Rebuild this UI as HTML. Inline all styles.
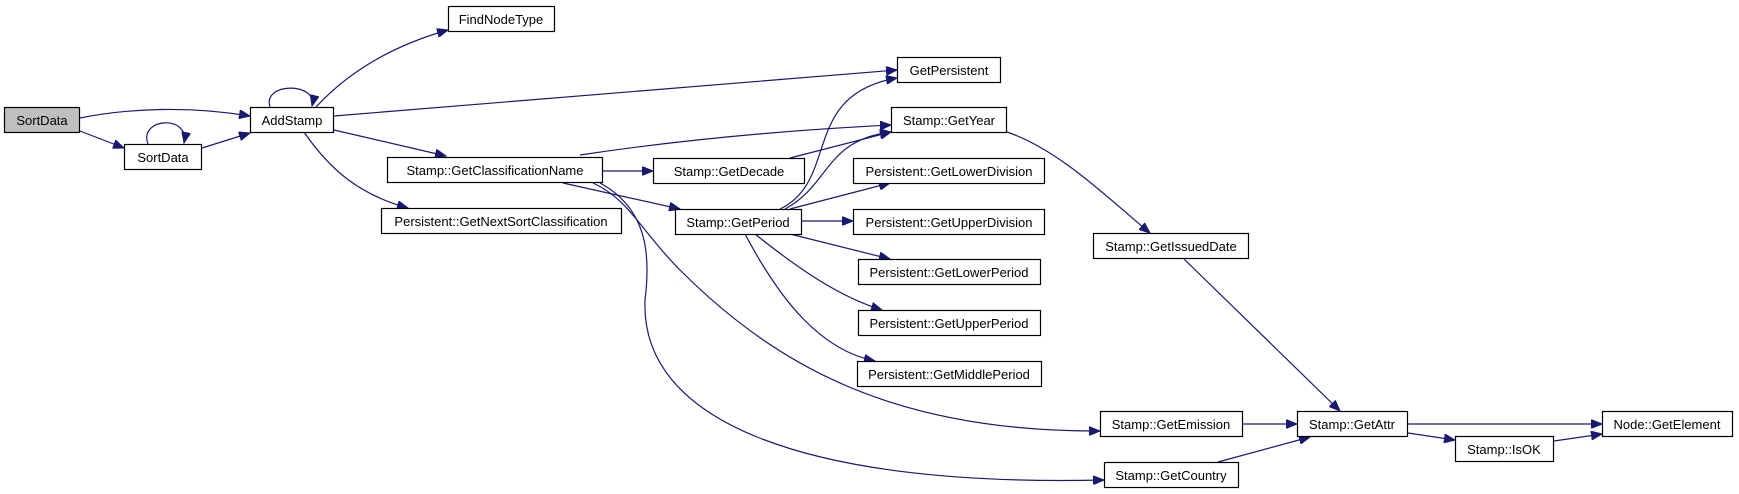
<!DOCTYPE html>
<html><head><meta charset="utf-8"><style>
html,body{margin:0;padding:0;background:#fff;}
svg{display:block;}
text{font-family:"Liberation Sans",sans-serif;font-size:13px;fill:#000;}
rect{stroke:#000;stroke-width:1.2;fill:#fff;}
path{fill:none;stroke:#191970;stroke-width:1.2;}
</style></head><body>
<svg width="1739" height="494" viewBox="0 0 1739 494" xmlns="http://www.w3.org/2000/svg">
<defs><marker id="a" markerUnits="userSpaceOnUse" markerWidth="12" markerHeight="9" refX="11" refY="4.5" orient="auto"><polygon points="0,0 11,4.5 0,9" fill="#191970" stroke="#191970"/></marker></defs>
<g marker-end="url(#a)">
<path d="M80,118 C130,108 190,106 250,116"/>
<path d="M80,131 L124,148"/>
<path d="M148,144 C138,118 190,114 184,143"/>
<path d="M202,148 L250,133"/>
<path d="M270,107 C262,82 318,82 312,106"/>
<path d="M316,107 C350,70 395,45 448,30"/>
<path d="M334,116 L897,70"/>
<path d="M334,130 L446,156"/>
<path d="M304,132 C330,170 360,195 408,208"/>
<path d="M580,155 C680,140 790,130 891,125"/>
<path d="M603,171 L653,171"/>
<path d="M563,183 L680,209"/>
<path d="M593,183 C630,200 640,230 680,270 C780,370 900,432 1100,431"/>
<path d="M600,183 C650,210 650,260 645,300 C640,420 800,487 1104,480"/>
<path d="M790,158 L891,132"/>
<path d="M780,209 C840,180 800,95 897,78"/>
<path d="M785,209 C830,185 825,140 891,132"/>
<path d="M790,209 L890,183"/>
<path d="M801,221 L853,221"/>
<path d="M790,234 L890,259"/>
<path d="M755,234 C800,270 840,297 882,310"/>
<path d="M745,234 C780,300 820,350 875,361"/>
<path d="M1007,132 C1060,150 1110,200 1150,233"/>
<path d="M1184,259 L1340,411"/>
<path d="M1243,424 L1297,424"/>
<path d="M1218,462 L1310,437"/>
<path d="M1408,424 L1602,424"/>
<path d="M1408,433 L1455,440"/>
<path d="M1554,441 L1602,434"/>
</g>
<rect x="4.5" y="107.5" width="75" height="25" style="fill:#bfbfbf"/><text x="42" y="125" text-anchor="middle">SortData</text>
<rect x="124.5" y="144.5" width="77" height="25"/><text x="163" y="162" text-anchor="middle">SortData</text>
<rect x="250.5" y="107.5" width="83" height="25"/><text x="292" y="125" text-anchor="middle">AddStamp</text>
<rect x="448.5" y="6.5" width="106" height="25"/><text x="501" y="24" text-anchor="middle">FindNodeType</text>
<rect x="387.5" y="157.5" width="215" height="25"/><text x="495" y="175" text-anchor="middle">Stamp::GetClassificationName</text>
<rect x="381.5" y="208.5" width="240" height="25"/><text x="501" y="226" text-anchor="middle">Persistent::GetNextSortClassification</text>
<rect x="897.5" y="57.5" width="103" height="25"/><text x="949" y="75" text-anchor="middle">GetPersistent</text>
<rect x="891.5" y="107.5" width="115" height="25"/><text x="949" y="125" text-anchor="middle">Stamp::GetYear</text>
<rect x="653.5" y="158.5" width="151" height="25"/><text x="729" y="176" text-anchor="middle">Stamp::GetDecade</text>
<rect x="675.5" y="209.5" width="126" height="25"/><text x="738" y="227" text-anchor="middle">Stamp::GetPeriod</text>
<rect x="853.5" y="158.5" width="191" height="25"/><text x="949" y="176" text-anchor="middle">Persistent::GetLowerDivision</text>
<rect x="853.5" y="209.5" width="191" height="25"/><text x="949" y="227" text-anchor="middle">Persistent::GetUpperDivision</text>
<rect x="858.5" y="259.5" width="182" height="25"/><text x="949" y="277" text-anchor="middle">Persistent::GetLowerPeriod</text>
<rect x="858.5" y="310.5" width="182" height="25"/><text x="949" y="328" text-anchor="middle">Persistent::GetUpperPeriod</text>
<rect x="857.5" y="361.5" width="184" height="25"/><text x="949" y="379" text-anchor="middle">Persistent::GetMiddlePeriod</text>
<rect x="1093.5" y="233.5" width="155" height="25"/><text x="1171" y="251" text-anchor="middle">Stamp::GetIssuedDate</text>
<rect x="1100.5" y="411.5" width="142" height="25"/><text x="1171" y="429" text-anchor="middle">Stamp::GetEmission</text>
<rect x="1104.5" y="462.5" width="134" height="25"/><text x="1171" y="480" text-anchor="middle">Stamp::GetCountry</text>
<rect x="1297.5" y="411.5" width="110" height="25"/><text x="1352" y="429" text-anchor="middle">Stamp::GetAttr</text>
<rect x="1455.5" y="436.5" width="98" height="25"/><text x="1504" y="454" text-anchor="middle">Stamp::IsOK</text>
<rect x="1602.5" y="411.5" width="130" height="25"/><text x="1667" y="429" text-anchor="middle">Node::GetElement</text>
</svg>
</body></html>
